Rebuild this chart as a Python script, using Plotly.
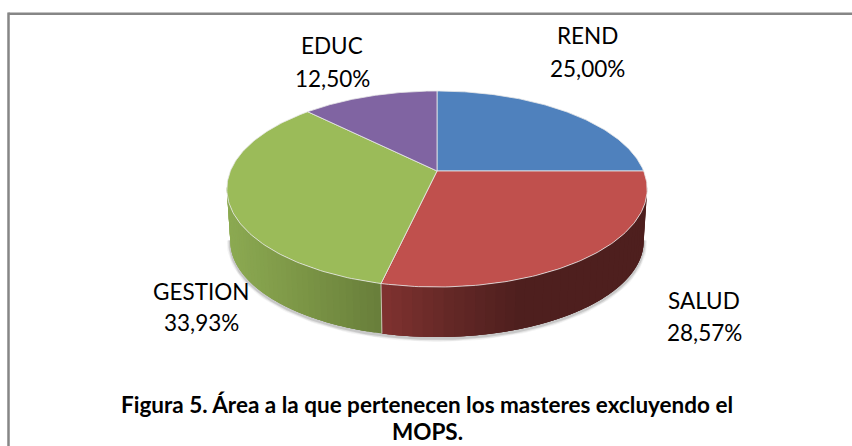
import numpy as np
import plotly.graph_objects as go

labels = ["REND", "SALUD", "GESTION", "EDUC"]
values = [25.00, 28.57, 33.93, 12.50]
colors = ["#4F81BD", "#C0504D", "#9BBB59", "#8064A2"]
title_lines = ["Figura 5. Área a la que pertenecen los masteres excluyendo el", "MOPS."]

W, H = 852, 446
APEX_X, APEX_Y = 437.0, 171.0
SX, SY, K = 206.6, 94.7, -0.1837       # perspective of the pie plane
ELL_CY, WALL_CY, WALL_SCALE_X, WALL_SCALE_Y = 188.5, 240.5, 206.5 / 210, 96.0 / 98
FONT = "Lato, Carlito, Calibri, sans-serif"


def top(theta):
    u, v = np.sin(theta), -np.cos(theta)
    d = 1 + K * v
    return APEX_X + SX * u / d, APEX_Y + SY * v / d


def bottom(theta):
    x, y = top(theta)
    return APEX_X + (x - APEX_X) * WALL_SCALE_X, WALL_CY + (y - ELL_CY) * WALL_SCALE_Y


def mix(stops, x):
    xs = [s[0] for s in stops]
    rgb = [np.interp(x, xs, [s[1][i] for s in stops]) for i in range(3)]
    return "rgb(%d,%d,%d)" % tuple(int(round(c)) for c in rgb)


wall_shades = {
    "SALUD": [(381, (128, 50, 48)), (450, (100, 40, 38)), (520, (78, 31, 30)), (650, (78, 31, 30))],
    "GESTION": [(226, (140, 170, 82)), (300, (124, 150, 70)), (381, (104, 126, 58))],
}

shares = np.array(values) / sum(values)
edges = np.concatenate([[0], np.cumsum(shares)]) * 2 * np.pi
TH_R, TH_L = np.radians(99.3), np.radians(260.7)

fig = go.Figure()

# soft shadow under the wall
ths = np.linspace(TH_R, TH_L, 160)
bx, by = bottom(ths)
for w, a in [(7, 0.06), (5, 0.09), (3, 0.16)]:
    fig.add_trace(go.Scatter(x=bx, y=by + 1.5, mode="lines", hoverinfo="skip", showlegend=False,
                             line=dict(color=f"rgba(60,60,60,{a})", width=w)))

# side walls: each strip runs on to the far end of its wall, so the next one paints over it
for i, name in enumerate(labels):
    if name not in wall_shades:
        continue
    a, b = max(edges[i], TH_R), min(edges[i + 1], TH_L)
    cuts = np.linspace(a, b, 40)
    for k, t0 in enumerate(cuts[:-1]):
        t1 = cuts[min(k + 3, len(cuts) - 1)]
        tt = np.linspace(t0, t1, 8)
        tx, ty = top(tt)
        qx, qy = bottom(tt)
        mid = float(top((t0 + cuts[k + 1]) / 2)[0])
        c = mix(wall_shades[name], mid)
        fig.add_trace(go.Scatter(x=np.r_[tx, qx[::-1]], y=np.r_[ty, qy[::-1]], mode="none",
                                 fill="toself", fillcolor=c,
                                 hoverinfo="skip", showlegend=False))

# seam between the two walls
sx, sy = top(edges[2]); qx, qy = bottom(edges[2])
fig.add_trace(go.Scatter(x=[sx, qx], y=[sy, qy], mode="lines", hoverinfo="skip", showlegend=False,
                         line=dict(color="rgba(225,225,215,0.75)", width=1)))

# top faces
for i, name in enumerate(labels):
    tt = np.linspace(edges[i], edges[i + 1], 120)
    x, y = top(tt)
    fig.add_trace(go.Scatter(x=np.r_[APEX_X, x, APEX_X], y=np.r_[APEX_Y, y, APEX_Y], mode="lines",
                             fill="toself", fillcolor=colors[i], name=name,
                             line=dict(color="rgba(232,232,232,0.8)", width=1),
                             text=f"{name}: {values[i]:.2f}%", hoverinfo="text", showlegend=False))

label_pos = {"REND": (587, 35, 68), "SALUD": (704, 300, 332), "GESTION": (201, 291, 322), "EDUC": (332, 45, 78)}
ann = []
for name, v in zip(labels, values):
    x, y1, y2 = label_pos[name]
    ann.append(dict(x=x, y=y1, text=name, showarrow=False, xanchor="center", yanchor="middle",
                    font=dict(family=FONT, size=22.5, color="#000000")))
    ann.append(dict(x=x, y=y2, text=f"{v:.2f}".replace(".", ",") + "%", showarrow=False,
                    xanchor="center", yanchor="middle", font=dict(family=FONT, size=22.5, color="#000000")))
for line, y in zip(title_lines, [404.5, 431.5]):
    ann.append(dict(x=427, y=y, text=f"<b>{line}</b>", showarrow=False, xanchor="center", yanchor="middle",
                    font=dict(family=FONT, size=22.5, color="#000000")))

fig.update_layout(
    width=W, height=H, margin=dict(l=0, r=0, t=0, b=0), autosize=False,
    paper_bgcolor="white", plot_bgcolor="white", showlegend=False, annotations=ann,
    xaxis=dict(range=[0, W], visible=False, fixedrange=True),
    yaxis=dict(range=[H, 0], visible=False, fixedrange=True),
    shapes=[
        dict(type="line", x0=8.5, x1=W, y0=13.7, y1=13.7, line=dict(color="#868686", width=2.5), layer="below"),
        dict(type="line", x0=8.5, x1=8.5, y0=12.5, y1=H, line=dict(color="#868686", width=2.5), layer="below"),
    ],
)
fig.write_html("out.html", config=dict(displayModeBar=False),
               post_script="document.body.style.margin='0';document.body.style.overflow='hidden';")
